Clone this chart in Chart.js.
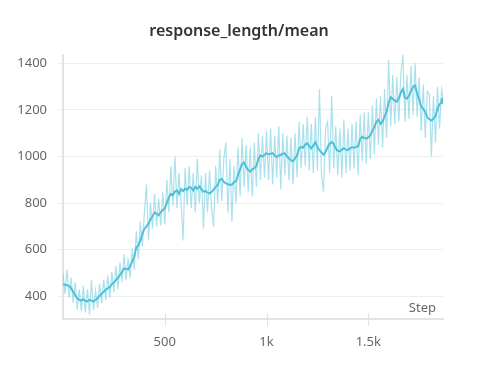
<!DOCTYPE html>
<html>
<head>
<meta charset="utf-8">
<script src="https://cdn.jsdelivr.net/npm/chart.js@4/dist/chart.umd.min.js"></script>
<style>
  html,body{margin:0;padding:0;background:#fff;}
  #wrap{width:478px;height:368px;}
</style>
</head>
<body>
<div id="wrap"><canvas id="c" width="478" height="368"></canvas></div>
<script>
// ----- Datos (step cada 10) -----
const rawValues = [
  500,410,515,395,480,372,460,345,430,338,
  445,330,430,322,470,340,425,350,455,370,
  472,385,490,395,505,418,530,430,545,462,
  580,470,565,480,605,515,680,560,720,615,
  760,880,640,800,690,840,700,820,705,850,
  710,900,760,960,790,1000,780,930,800,640,
  950,790,960,780,930,760,990,800,920,690,
  930,760,940,780,700,960,800,1030,810,990,
  1060,760,990,720,960,800,1040,830,1080,870,
  1050,850,1040,830,1060,870,1100,900,1090,910,
  1110,900,1120,880,1090,910,1130,860,1100,920,
  1090,900,1080,880,1100,910,1150,950,1140,960,
  1170,940,1140,930,1170,940,1290,920,850,1120,
  1150,930,1260,950,1130,920,1120,910,1160,930,
  1120,940,1140,950,1150,920,1180,980,1190,970,
  1190,990,1220,1010,1250,1050,1260,1040,1290,1080,
  1414,1130,1350,1140,1340,1150,1360,1436,1150,1350,
  1160,1390,1180,1400,1170,1340,1110,1310,1080,1280,
  1270,1000,1260,1060,1300,1120,1290,1240
];
const smoothValues = [
  452,450,448,445,435,420,405,392,385,382,
  388,380,378,385,382,378,386,392,402,412,
  420,428,435,440,452,460,470,480,492,505,
  520,518,515,530,550,570,610,618,640,668,
  690,700,712,730,745,760,755,748,762,770,
  778,800,825,840,835,850,855,840,860,852,
  862,858,870,866,855,870,862,872,860,850,
  852,845,842,848,858,870,878,900,905,892,
  885,882,878,880,890,895,920,945,968,975,
  955,942,935,945,950,960,990,1005,1000,1008,
  1015,1010,1012,1015,1005,998,1004,1008,1012,1014,
  1002,992,985,980,992,1005,1035,1042,1038,1052,
  1057,1045,1035,1048,1062,1040,1028,1018,1008,1020,
  1040,1055,1062,1055,1035,1025,1022,1030,1036,1030,
  1028,1036,1040,1038,1042,1045,1075,1086,1080,1078,
  1082,1092,1110,1128,1150,1158,1140,1150,1172,1195,
  1230,1255,1248,1240,1236,1250,1275,1290,1252,1248,
  1262,1282,1300,1305,1270,1245,1215,1205,1192,1168,
  1160,1155,1162,1175,1205,1225,1232,1240
];
const steps = rawValues.map((_, i) => i * 10);
const xTicks = [500, 1000, 1500];
const xTickLabels = ['500', '1k', '1.5k'];
const yTicks = [400, 600, 800, 1000, 1200, 1400];

const lineColor = '#4fc0d8';
const rawColor = 'rgba(79,192,216,0.48)';
const axisColor = '#e3e3e3';
const gridColor = '#efefef';
const textColor = '#666';
const FONT = "'Noto Sans', sans-serif";

const lastIdx = steps.length - 1;
const toXY = arr => arr.map((v, i) => ({ x: steps[i], y: v }));

// título, marcas de eje X y etiqueta "Step"
const extras = {
  id: 'extras',
  afterDraw(chart){
    const { ctx, chartArea, scales, width } = chart;
    ctx.save();
    ctx.fillStyle = '#333';
    ctx.font = `600 16px ${FONT}`;
    ctx.textAlign = 'center';
    ctx.textBaseline = 'middle';
    ctx.fillText('response_length/mean', width / 2, 31);

    ctx.strokeStyle = axisColor;
    ctx.lineWidth = 1;
    xTicks.forEach(v => {
      const x = Math.round(scales.x.getPixelForValue(v)) + 0.5;
      ctx.beginPath();
      ctx.moveTo(x, chartArea.bottom - 6);
      ctx.lineTo(x, chartArea.bottom + 7);
      ctx.stroke();
    });
    ctx.fillStyle = textColor;
    ctx.font = `13px ${FONT}`;
    ctx.textAlign = 'right';
    ctx.fillText('Step', chartArea.right - 7, chartArea.bottom - 11);
    ctx.restore();
  }
};

new Chart(document.getElementById('c'), {
  type: 'line',
  data: {
    datasets: [
      { label: 'raw', data: toXY(rawValues), borderColor: rawColor, backgroundColor: rawColor,
        borderWidth: 1.2, tension: 0,
        pointRadius: ctx => ctx.dataIndex === lastIdx ? 3.5 : 0, pointBorderWidth: 0 },
      { label: 'smooth', data: toXY(smoothValues), borderColor: lineColor, backgroundColor: lineColor,
        borderWidth: 2, tension: 0,
        pointRadius: ctx => ctx.dataIndex === lastIdx ? 3 : 0, pointBorderWidth: 0 }
    ]
  },
  options: {
    responsive: false,
    animation: false,
    layout: { padding: { left: 0, right: 35, top: 55, bottom: 0 } },
    plugins: {
      legend: { display: false },
      tooltip: { enabled: false },
      title: { display: false }
    },
    scales: {
      x: {
        type: 'linear', min: 0, max: 1867,
        afterBuildTicks: axis => { axis.ticks = xTicks.map(v => ({ value: v })); },
        afterFit: s => { s.height = 49; },
        grid: { drawOnChartArea: false, drawTicks: false },
        border: { color: axisColor, width: 2 },
        ticks: {
          color: textColor, font: { family: FONT, size: 13 }, padding: 15, maxRotation: 0,
          callback: v => xTickLabels[xTicks.indexOf(v)]
        }
      },
      y: {
        min: 303, max: 1436,
        afterBuildTicks: axis => { axis.ticks = yTicks.map(v => ({ value: v })); },
        afterFit: s => { s.width = 63; },
        grid: { color: gridColor, tickLength: 6, tickColor: gridColor },
        border: { color: axisColor, width: 2 },
        ticks: { color: textColor, font: { family: FONT, size: 13 }, padding: 10, callback: v => String(v) }
      }
    }
  },
  plugins: [extras]
});
</script>
</body>
</html>
